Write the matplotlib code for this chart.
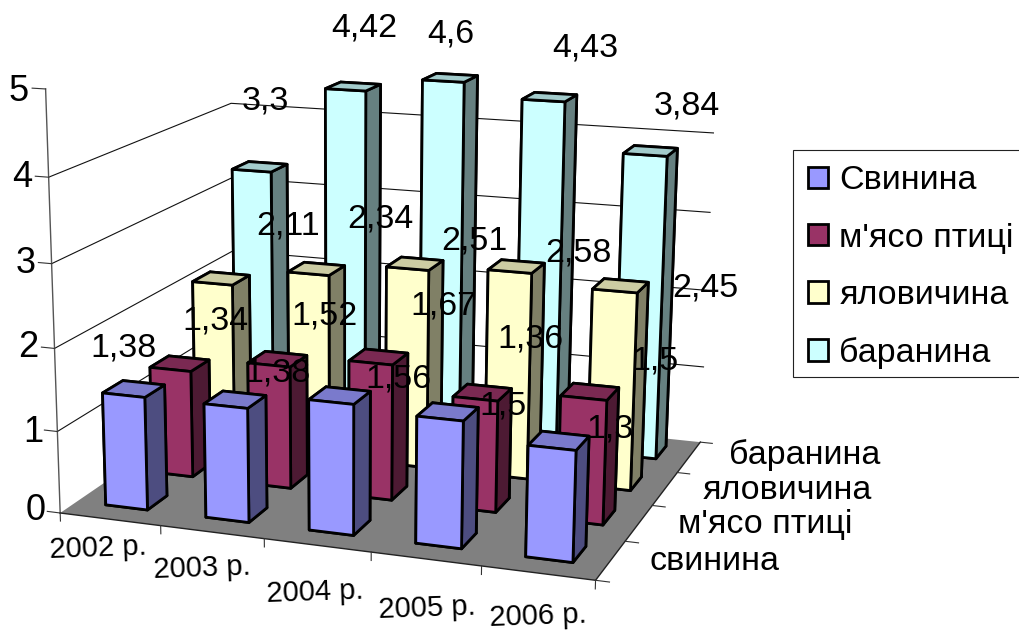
import numpy as np
import matplotlib
matplotlib.use("Agg")
import matplotlib.pyplot as plt
from matplotlib.patches import Patch, Rectangle
from mpl_toolkits.mplot3d.art3d import Poly3DCollection

plt.rcParams['font.family'] = ['Liberation Sans', 'DejaVu Sans']

# ---------- data ----------
years = ["2002 р.", "2003 р.", "2004 р.", "2005 р.", "2006 р."]
series_axis = ["свинина", "м'ясо птиці", "яловичина", "баранина"]
series_legend = ["Свинина", "м'ясо птиці", "яловичина", "баранина"]
pork = [1.38, 1.38, 1.56, 1.5, 1.3]
poultry = [1.34, 1.52, 1.67, 1.36, 1.5]
beef = [2.11, 2.34, 2.51, 2.58, 2.45]
mutton = [3.3, 4.42, 4.6, 4.43, 3.84]
z_ticks = [0, 1, 2, 3, 4, 5]

# ---------- style ----------
front = ["#9999FF", "#993366", "#FFFFCC", "#CCFFFF"]
top = ["#7A7ACC", "#7A2952", "#CCCCA3", "#A3CCCC"]
side = ["#4D4D80", "#4D1A33", "#808066", "#668080"]

# ---------- camera: fitted to the chart's box corners and bar corners ----------
box_3d = [(0,0,0),(0,0,1),(0,0,2),(0,0,3),(0,0,4),(0,0,5),
          (1,0,0),(2,0,0),(5,0,0),(5,4,0),(0,4,0),(0,4,4),(5,4,4),(5,4,1),
          (5,3,0),(5,2,0),(5,1,0),
          (4.29,.34,1.3),(4.29,.34,0),(.29,.34,1.38),(.29,.34,0),
          (4.29,3.34,3.84),(.29,3.34,3.3),(4.29,2.34,2.45),(1.29,.34,1.38),(2.29,.34,1.56),(3.29,.34,1.5)]
box_px = [(62,510),(59,431),(55,345),(51,262),(48,177),(45,90),
          (159,523),(263,537),(597,583),(702,439),(233,403),(233,101),(712,133),(704,363),
          (675,469),(652,504),(627,542),
          (528,450),(525,558),(101,393),(106,504),
          (623,156),(233,168),(593,290),(204,405),(310,402),(416,419)]
A, b = [], []
for (X, Y, Z), (u, v) in zip(box_3d, box_px):
    A.append([X, Y, Z, 1, 0, 0, 0, 0, -u*X, -u*Y, -u*Z]); b.append(u)
    A.append([0, 0, 0, 0, X, Y, Z, 1, -v*X, -v*Y, -v*Z]); b.append(v)
p = np.linalg.lstsq(np.array(A, float), np.array(b, float), rcond=None)[0]
M = np.array([[p[0], p[1], p[2], p[3]],
              [p[4], p[5], p[6], p[7]],
              [p[8], p[9], p[10], 1 - 0.5],
              [p[8], p[9], p[10], 1.0]])

W, H = 1019, 630
fig = plt.figure(figsize=(W/100, H/100), dpi=100, facecolor="white")
ax = fig.add_axes([0, 1 - W/H, 1, W/H], projection="3d")
ax.computed_zorder = False
ax.set_axis_off()
ax.set_proj_type("ortho")
ax.get_proj = lambda: M

# floor
floor = Poly3DCollection([[(0,0,0),(5,0,0),(5,4,0),(0,4,0)]],
                         facecolor="#808080", edgecolor="none", zorder=0.5)
ax.add_collection3d(floor)

# walls grid
for z in z_ticks[1:-1]:
    ax.plot([0,0,5],[0,4,4],[z,z,z], color="#111111", lw=0.8, zorder=1)
ax.plot([0,0],[0,0],[0,5], color="#555555", lw=1.0, zorder=1)
ax.plot([0,5,5],[0,0,4],[0,0,0], color="#222222", lw=1.0, zorder=1)
for z in z_ticks:
    ax.plot([-0.13,0],[0,0],[z,z], color="#333333", lw=0.8, zorder=1)
for i in range(6):
    ax.plot([i,i],[0,0],[0,-0.1], color="#333333", lw=0.8, zorder=1)
for j in range(5):
    ax.plot([5,5.12],[j,j],[0,0], color="#333333", lw=0.8, zorder=1)

# bars: back row first, left to right inside a row
all_series = [pork, poultry, beef, mutton]
bw = 0.42
z = 2
for j in range(3, -1, -1):
    for i in range(5):
        cols = [side[j], top[j], front[j], side[j], side[j], side[j]]
        poly = ax.bar3d(i + 0.5 - bw/2, j + 0.55 - bw/2, 0, bw, bw, all_series[j][i],
                        color=cols, shade=False, edgecolor="black", linewidth=2.0)
        poly.set_zorder(z)
        z += 1

# value labels
label_px = [
    [(124,347),(278,372),(398,378),(503,405),(610,428)],
    [(215,320),(325,315),(443,305),(530,338),(655,360)],
    [(288,225),(380,218),(474,240),(578,252),(705,287)],
    [(265,100),(364,27),(451,33),(585,47),(687,105)],
]
fs = 24.5
for j, s in enumerate(all_series):
    for i, v in enumerate(s):
        x, y = label_px[j][i]
        ax.text2D(x, y + 1, f"{v:g}".replace(".", ","), fontsize=fs, ha="center",
                  va="center", color="black", zorder=100, clip_on=False)

# z tick labels
for t, (x, y) in zip(z_ticks, [(36,510),(33,432),(28,347),(26,263),(22,177),(19,91)]):
    ax.text2D(x, y, str(t), fontsize=26, ha="center", va="center", zorder=100)
# year labels
for t, (x, y) in zip(years, [(98,548),(202,568),(315,592),(427,608),(538,616)]):
    ax.text2D(x, y, t, fontsize=21, ha="center", va="center", rotation=2, zorder=100)
# series axis labels
for t, (x, y) in zip(series_axis, [(715,562),(765,525),(787,490),(805,455)]):
    ax.text2D(x, y, t, fontsize=fs, ha="center", va="center", zorder=100)

# legend frame and entries
fig.add_artist(Rectangle((793/W, 1 - 377/H), 240/W, 227/H, transform=fig.transFigure,
                         facecolor="white", edgecolor="#222222", linewidth=0.8, zorder=5))
handles = [Patch(facecolor=f, edgecolor="black", linewidth=2.0, label=l)
           for f, l in zip(front, series_legend)]
leg = fig.legend(handles=handles, loc="upper left", frameon=False,
                 bbox_to_anchor=(793/W, 1 - 150/H), borderaxespad=0, fontsize=24.5,
                 labelspacing=0.77, handlelength=0.58, handleheight=0.6,
                 handletextpad=0.33, borderpad=0.45)
leg.set_zorder(6)

ax.viewLim.intervalx = (0, W)
ax.viewLim.intervaly = (W, 0)
fig.savefig("out.png", dpi=100, facecolor="white")
